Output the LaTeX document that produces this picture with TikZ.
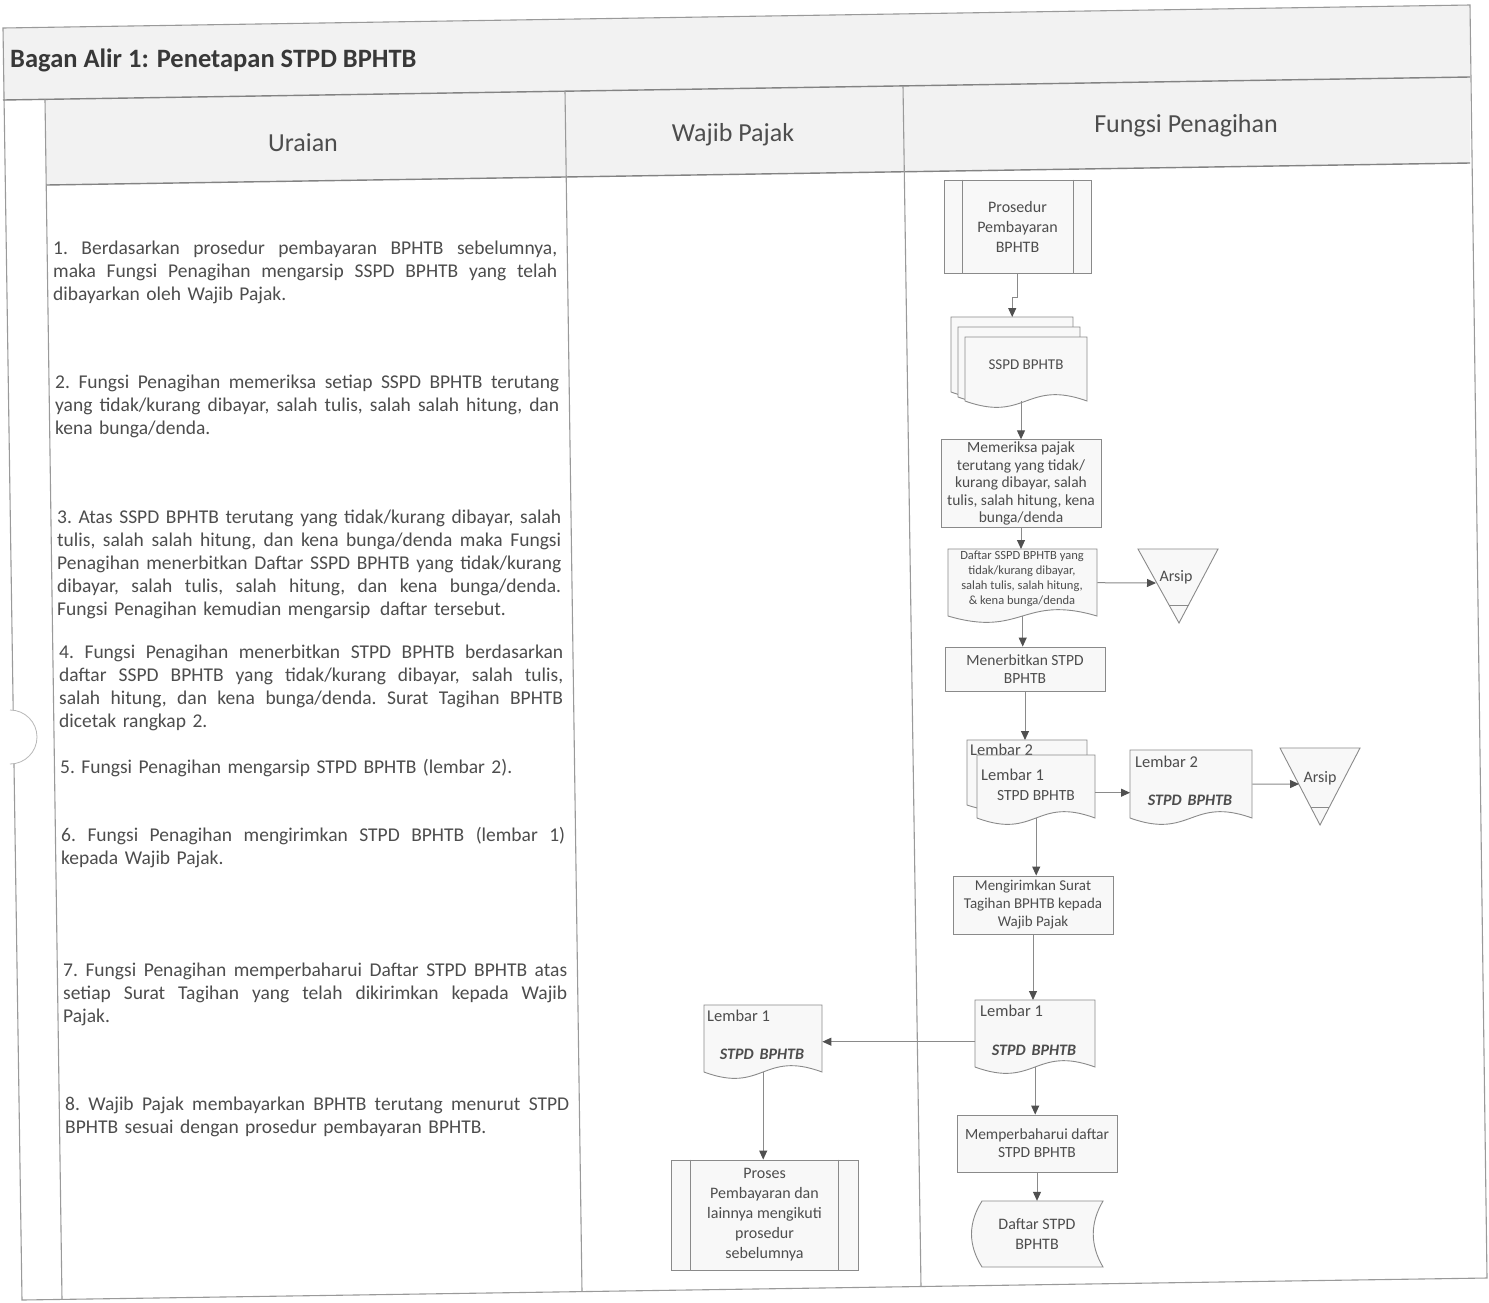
\documentclass[tikz,border=0pt]{standalone}
\usepackage{fontspec}
\setmainfont{Carlito}
\usetikzlibrary{arrows.meta}

\definecolor{ink}{HTML}{4D4D4D}
\definecolor{titleink}{HTML}{383838}
\definecolor{frameg}{HTML}{9A9A9A}
\definecolor{shapeg}{HTML}{8A8A8A}
\definecolor{tipg}{HTML}{505050}
\definecolor{band}{HTML}{F2F2F2}
\definecolor{boxfill}{HTML}{F8F8F8}

% one fully justified line of a description paragraph
\newcommand\jline[1]{\makebox[504pt][s]{\frenchspacing\spaceskip=0.226em plus 1fil\relax #1}\\}

% document symbol: name, x1, y1, x2, y2 (bottom of the sides), wave depth
\newcommand\docshape[6]{%
  \draw[shapeln] (#2,#3) -- (#4,#3) -- (#4,#5)
     .. controls ({(#2+#4)/2},{#5-#6}) and ({(#2+#4)/2},{#5+#6}) .. (#2,#5) -- cycle;
  \node[anchor=north west, inner sep=0pt, minimum width={#4-#2},
        minimum height={#5-#3}] (#1) at (#2,#3) {};
}

\begin{document}
\begin{tikzpicture}[x=1pt, y=-1pt,
  frameln/.style={draw=frameg, line width=1.1pt},
  sepln/.style={draw=frameg!85!black, line width=1.4pt},
  shapeln/.style={draw=shapeg, line width=0.9pt, fill=boxfill},
  procbox/.style={shapeln, text=ink, align=center, inner sep=2pt},
  flow/.style={draw=shapeg, line width=1pt, -{Triangle[length=9pt,width=8pt,color=tipg]}},
  para/.style={text=ink, text width=504pt, align=left, inner sep=0pt,
               font=\fontsize{19.5}{23}\selectfont\frenchspacing, anchor=north west},
  head/.style={text=ink, inner sep=0pt, font=\fontsize{26}{30}\selectfont},
  lbl/.style={text=ink, inner sep=0pt},
  stpd/.style={lbl, font=\fontsize{16}{19}\selectfont\bfseries\itshape}]

\useasboundingbox (0,0) rectangle (1489,1302);
\fill[white] (0,0) rectangle (1489,1302);

% ---------- sheet frame, title band and lane headers ----------
\fill[band] (3,28) -- (1470,5) -- (1470,77) -- (3,100) -- cycle;
\fill[band] (45,99.3) -- (1470,77) -- (1470,163) -- (46.2,185) -- cycle;
\draw[frameln] (3,28) -- (1470,5) -- (1487,1278) -- (22,1300) -- cycle;
\draw[sepln] (3,100) -- (1470,77);
\draw[sepln] (46.2,185) -- (1470,163);
\draw[frameln] (45,99.3) -- (62,1299.4);
\draw[frameln] (565,91.1) -- (582,1291.6);
\draw[frameln] (903,85.8) -- (921,1286.5);
% punch hole on the left edge
\fill[white] (10,737) circle[radius=27pt];
\draw[draw=frameg!70, line width=0.8pt] (10,710) arc[start angle=90, end angle=-90, radius=27pt];

\node[anchor=west, inner sep=0pt, text=titleink,
      font=\fontsize{26.5}{30}\selectfont\bfseries] (ttl) at (10,60) {Bagan Alir 1: Penetapan STPD BPHTB};
\node[head] (hUraian) at (303,143) {Uraian};
\node[head] (hWajib) at (733,135) {Wajib Pajak};
\node[head] (hFungsi) at (1186,126) {Fungsi Penagihan};

% ---------- description column ----------
\node[para] (u1) at (53,241) {\jline{1. Berdasarkan prosedur pembayaran BPHTB sebelumnya,}\jline{maka Fungsi Penagihan mengarsip SSPD BPHTB yang telah}dibayarkan oleh Wajib Pajak.};
\node[para] (u2) at (55,375) {\jline{2. Fungsi Penagihan memeriksa setiap SSPD BPHTB terutang}\jline{yang tidak/kurang dibayar, salah tulis, salah salah hitung, dan}kena bunga/denda.};
\node[para] (u3) at (57,510) {\jline{3. Atas SSPD BPHTB terutang yang tidak/kurang dibayar, salah}\jline{tulis, salah salah hitung, dan kena bunga/denda maka Fungsi}\jline{Penagihan menerbitkan Daftar SSPD BPHTB yang tidak/kurang}\jline{dibayar, salah tulis, salah hitung, dan kena bunga/denda.}Fungsi Penagihan kemudian mengarsip\, daftar tersebut.};
\node[para] (u4) at (59,645) {\jline{4. Fungsi Penagihan menerbitkan STPD BPHTB berdasarkan}\jline{daftar SSPD BPHTB yang tidak/kurang dibayar, salah tulis,}\jline{salah hitung, dan kena bunga/denda. Surat Tagihan BPHTB}dicetak rangkap 2.};
\node[para] (u5) at (60,759) {5. Fungsi Penagihan mengarsip STPD BPHTB (lembar 2).};
\node[para] (u6) at (61,827) {\jline{6. Fungsi Penagihan mengirimkan STPD BPHTB (lembar 1)}kepada Wajib Pajak.};
\node[para] (u7) at (63,963) {\jline{7. Fungsi Penagihan memperbaharui Daftar STPD BPHTB atas}\jline{setiap Surat Tagihan yang telah dikirimkan kepada Wajib}Pajak.};
\node[para] (u8) at (65,1097) {\jline{8. Wajib Pajak membayarkan BPHTB terutang menurut STPD}BPHTB sesuai dengan prosedur pembayaran BPHTB.};

% ---------- Fungsi Penagihan lane ----------
% predefined process
\node[procbox, minimum width=147, minimum height=93, font=\fontsize{16}{20}\selectfont]
  (pros) at (1017.5,226.5) {Prosedur\\Pembayaran\\BPHTB};
\draw[shapeln] ([xshift=19pt]pros.north west) -- ([xshift=19pt]pros.south west);
\draw[shapeln] ([xshift=-18pt]pros.north east) -- ([xshift=-18pt]pros.south east);

% SSPD BPHTB, several copies
\docshape{sspdA}{951}{317}{1073}{392}{22}
\docshape{sspdB}{958}{327}{1080}{397}{22}
\docshape{sspdC}{965}{337}{1087}{401}{22}
\node[lbl, font=\fontsize{15}{18}\selectfont] (sspdT) at (1026,365) {SSPD BPHTB};

\node[procbox, minimum width=160, minimum height=87, font=\fontsize{15.5}{17.5}\selectfont]
  (cek) at (1021,483.5) {Memeriksa pajak\\terutang yang tidak/\\kurang dibayar, salah\\tulis, salah hitung, kena\\bunga/denda};

\docshape{daftar}{948}{549}{1097}{616}{22}
\node[lbl, align=center, font=\fontsize{12.5}{15}\selectfont] (daftarT) at (1022,579)
  {Daftar SSPD BPHTB yang\\tidak/kurang dibayar,\\salah tulis, salah hitung,\\\& kena bunga/denda};

% archive 1
\draw[shapeln] (1138,549) -- (1218,549) -- (1179,623) -- cycle;
\draw[shapeln] (1169,605) -- (1189,605);
\node[lbl, font=\fontsize{16}{19}\selectfont] (arsip1) at (1176,577) {Arsip};
\coordinate (arsip1In) at (1156,583);

\node[procbox, minimum width=160, minimum height=44, font=\fontsize{15.5}{18}\selectfont]
  (terbit) at (1025,669) {Menerbitkan STPD\\BPHTB};

% STPD BPHTB, sheet 2 behind sheet 1
\docshape{lbA}{967}{740}{1087}{805}{20}
\node[lbl, anchor=west, font=\fontsize{16.5}{19}\selectfont] (lbAT) at (970,750) {Lembar 2};
\docshape{lbB}{977}{755}{1095}{818}{22}
\node[lbl, anchor=west, font=\fontsize{16.5}{19}\selectfont] (lbBT) at (981,775) {Lembar 1};
\node[lbl, font=\fontsize{15.5}{19}\selectfont] (lbBS) at (1036,796) {STPD BPHTB};

\docshape{lem2}{1130}{750}{1252}{818}{22}
\node[lbl, anchor=west, font=\fontsize{16.5}{19}\selectfont] (lem2T) at (1135,762) {Lembar 2};
\node[stpd] (lem2S) at (1190,800) {STPD\hspace{6pt}BPHTB};

% archive 2
\draw[shapeln] (1280,748) -- (1360,748) -- (1320,825) -- cycle;
\draw[shapeln] (1311,807) -- (1329,807);
\node[lbl, font=\fontsize{16}{19}\selectfont] (arsip2) at (1320,778) {Arsip};
\coordinate (arsip2In) at (1299,784);

\node[procbox, minimum width=160, minimum height=58, font=\fontsize{15}{18}\selectfont]
  (kirim) at (1033,905) {Mengirimkan Surat\\Tagihan BPHTB kepada\\Wajib Pajak};

\docshape{l1R}{975}{1000}{1095}{1067}{22}
\node[lbl, anchor=west, font=\fontsize{16.5}{19}\selectfont] (l1RT) at (980,1011) {Lembar 1};
\node[stpd] (l1RS) at (1034,1050) {STPD\hspace{6pt}BPHTB};

\node[procbox, minimum width=160, minimum height=57, font=\fontsize{15.5}{18}\selectfont]
  (baru) at (1037,1143.5) {Memperbaharui daftar\\STPD BPHTB};

% stored data
\draw[shapeln] (982,1201) -- (1103,1201) .. controls (1090,1223) and (1090,1245) .. (1103,1267)
  -- (982,1267) .. controls (968,1245) and (968,1223) .. (982,1201) -- cycle;
\node[lbl, align=center, minimum height=66, font=\fontsize{16}{20}\selectfont]
  (dstpd) at (1037,1234) {Daftar STPD\\BPHTB};

% ---------- Wajib Pajak lane ----------
\docshape{l1L}{704}{1005}{822}{1072}{22}
\node[lbl, anchor=west, font=\fontsize{16.5}{19}\selectfont] (l1LT) at (707,1016) {Lembar 1};
\node[stpd] (l1LS) at (762,1054) {STPD\hspace{6pt}BPHTB};

\node[procbox, minimum width=187, minimum height=110, font=\fontsize{16}{20}\selectfont]
  (proses) at (764.5,1215) {Proses\\Pembayaran dan\\lainnya mengikuti\\prosedur\\sebelumnya};
\draw[shapeln] ([xshift=20pt]proses.north west) -- ([xshift=20pt]proses.south west);
\draw[shapeln] ([xshift=-20pt]proses.north east) -- ([xshift=-20pt]proses.south east);

% ---------- flow ----------
\draw[flow] (pros.south) -- ++(0,24) -| (sspdA.north);
\draw[flow] (cek.north |- sspdC.south) -- (cek.north);
\draw[flow] (cek.south) -- (cek.south |- daftar.north);
\draw[flow] (daftar.east) -- (arsip1In);
\draw[flow] (daftar.south) -- (daftar.south |- terbit.north);
\draw[flow] (terbit.south) -- (terbit.south |- lbA.north);
\draw[flow] ([yshift=-6pt]lbB.east) -- ([yshift=-6pt]lbB.east -| lem2.west);
\draw[flow] (lem2.east) -- (arsip2In);
\draw[flow] (lbB.south) -- (lbB.south |- kirim.north);
\draw[flow] (kirim.south) -- (kirim.south |- l1R.north);
\draw[flow] ([yshift=-8pt]l1R.west) -- ([yshift=-8pt]l1R.west -| l1L.east);
\draw[flow] (l1L.south) -- (l1L.south |- proses.north);
\draw[flow] (l1R.south) -- (l1R.south |- baru.north);
\draw[flow] (baru.south) -- (dstpd.north);

\end{tikzpicture}
\end{document}
